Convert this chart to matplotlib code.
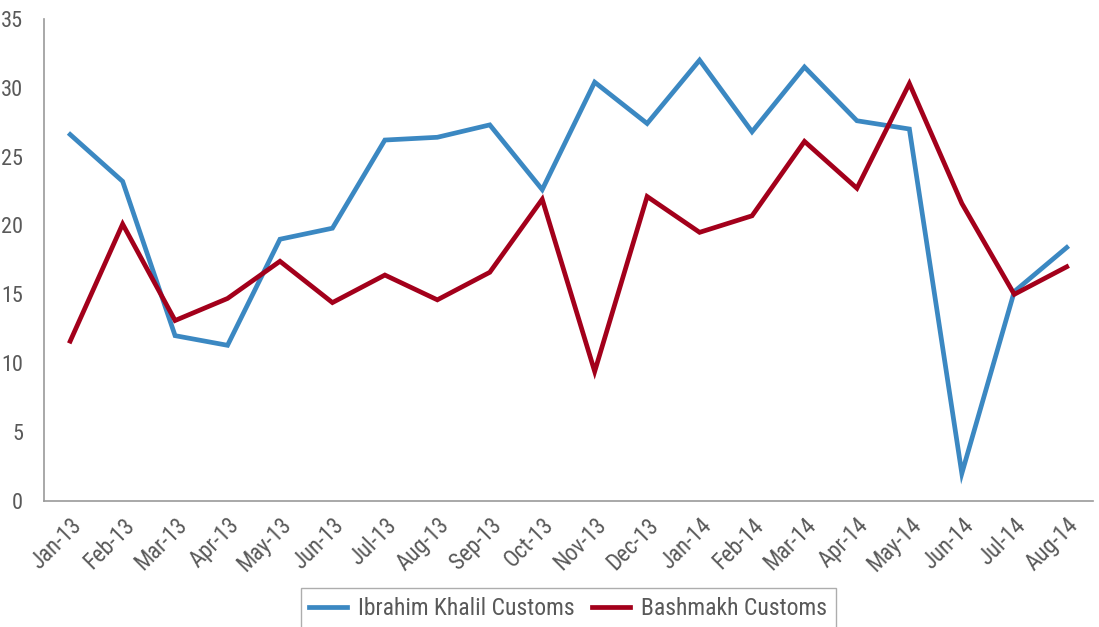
import matplotlib
matplotlib.use("Agg")
import matplotlib.pyplot as plt

months = ["Jan-13", "Feb-13", "Mar-13", "Apr-13", "May-13", "Jun-13", "Jul-13",
          "Aug-13", "Sep-13", "Oct-13", "Nov-13", "Dec-13", "Jan-14", "Feb-14",
          "Mar-14", "Apr-14", "May-14", "Jun-14", "Jul-14", "Aug-14"]
ibrahim_khalil = [26.6, 23.2, 12.0, 11.3, 19.0, 19.8, 26.2, 26.4, 27.3, 22.6,
                  30.4, 27.4, 32.0, 26.8, 31.5, 27.6, 27.0, 2.0, 15.2, 18.4]
bashmakh = [11.6, 20.1, 13.1, 14.7, 17.4, 14.4, 16.4, 14.6, 16.6, 21.9,
            9.4, 22.1, 19.5, 20.7, 26.1, 22.7, 30.3, 21.6, 15.0, 17.0]

plt.rcParams['font.family'] = ['Roboto Condensed', 'DejaVu Sans']
text_color = '#595959'

fig = plt.figure(figsize=(10.99, 6.27), dpi=100)
ax = fig.add_axes([0.040, 0.201, 0.9545, 0.769])

x = list(range(len(months)))
ax.plot(x, ibrahim_khalil, color='#3b88c2', lw=3.4, label='Ibrahim Khalil Customs',
        solid_joinstyle='miter')
ax.plot(x, bashmakh, color='#a3001b', lw=3.4, label='Bashmakh Customs',
        solid_joinstyle='miter')

ax.set_xlim(-0.5, len(months) - 0.5)
ax.set_ylim(0, 35)
ax.set_yticks(range(0, 36, 5))
ax.set_xticks(x)
ax.set_xticklabels(months, rotation=45, ha='right', rotation_mode='anchor')
ax.tick_params(axis='x', length=0, labelsize=16.5, colors=text_color, pad=9)
ax.tick_params(axis='y', length=0, labelsize=16, colors=text_color, pad=15)

for side in ['top', 'right']:
    ax.spines[side].set_visible(False)
for side in ['left', 'bottom']:
    ax.spines[side].set_color('#999999')
    ax.spines[side].set_linewidth(1.2)

# legend box sits at the bottom edge, slightly clipped
leg = fig.legend(loc='lower center', bbox_to_anchor=(0.517, -0.015), ncol=2,
                 frameon=True, fancybox=False, fontsize=17, handlelength=1.6,
                 handletextpad=0.47, columnspacing=0.72, borderpad=0.38,
                 borderaxespad=0.3)
leg.get_frame().set_edgecolor('#999999')
leg.get_frame().set_linewidth(1.0)
for t in leg.get_texts():
    t.set_color(text_color)

fig.savefig('out.png', dpi=100)
